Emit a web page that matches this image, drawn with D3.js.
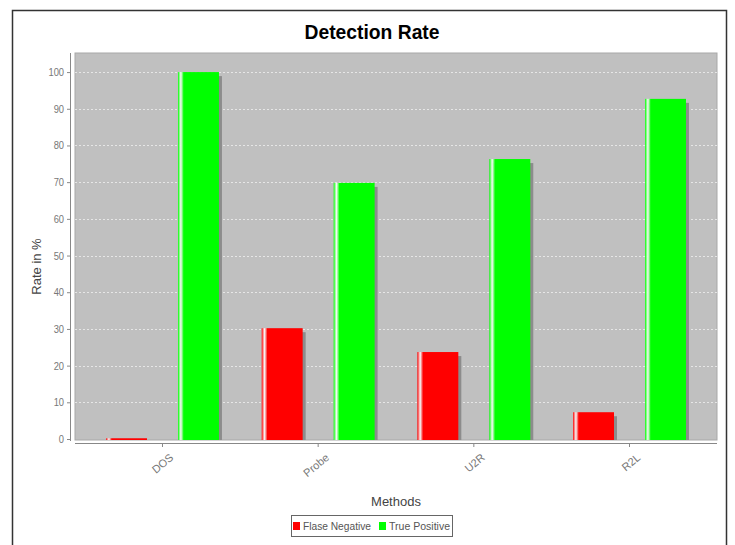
<!DOCTYPE html>
<html>
<head>
<meta charset="utf-8">
<script src="https://cdn.jsdelivr.net/npm/d3@7"></script>
<style>
  body { margin: 0; background: #fff; }
  svg { display: block; }
</style>
</head>
<body>
<div id="chart"></div>
<script>
const categories = ["DOS", "Probe", "U2R", "R2L"];
const series = ["Flase Negative", "True Positive"];
const falseNegative = [0.2, 30.2, 23.7, 7.3];
const truePositive = [100, 69.8, 76.3, 92.7];
const yTicks = [0, 10, 20, 30, 40, 50, 60, 70, 80, 90, 100];
const colors = ["#ff0000", "#00ff00"];

function PlotChart(parent_element) {
  const W = 735, H = 545;
  const plot = {left: 75, right: 717, top: 53, bottom: 440};
  const narrow = "'Liberation Sans', Arial, sans-serif";

  const svg = d3.select("#" + parent_element)
    .append("svg")
      .attr("width", W)
      .attr("height", H);

  // outer frame
  svg.append("path")
      .attr("d", `M12.5,${H} V10.5 H726.5 V${H}`)
      .attr("fill", "none")
      .attr("stroke", "#333")
      .attr("stroke-width", 1.5);

  const defs = svg.append("defs");
  colors.forEach((c, i) => {
    const g = defs.append("linearGradient")
        .attr("id", "grad" + i)
        .attr("x1", "0%").attr("x2", "100%").attr("y1", "0%").attr("y2", "0%");
    g.append("stop").attr("offset", "0%").attr("stop-color", c);
    g.append("stop").attr("offset", "7%").attr("stop-color", "#ffffff").attr("stop-opacity", 0.9);
    g.append("stop").attr("offset", "14%").attr("stop-color", c);
    g.append("stop").attr("offset", "100%").attr("stop-color", c);
  });

  const x0 = d3.scaleBand()
    .domain(categories)
    .range([plot.left, plot.right])
    .paddingInner(0)
    .paddingOuter(0.062);

  const x1 = d3.scaleBand()
    .domain(series)
    .range([0, x0.bandwidth()])
    .paddingInner(0.431)
    .paddingOuter(0.297);

  const y = d3.scaleLinear()
    .domain([0, 105.2])
    .range([plot.bottom - 1, plot.top]);

  // plot background
  svg.append("rect")
      .attr("x", plot.left)
      .attr("y", plot.top)
      .attr("width", plot.right - plot.left)
      .attr("height", plot.bottom - plot.top)
      .attr("fill", "#c0c0c0")
      .attr("stroke", "#a8a8a8");

  // gridlines
  svg.append("g")
    .selectAll("line")
    .data(yTicks.slice(1))
    .enter()
    .append("line")
      .attr("x1", plot.left)
      .attr("x2", plot.right)
      .attr("y1", d => Math.round(y(d)) + 0.5)
      .attr("y2", d => Math.round(y(d)) + 0.5)
      .attr("stroke", "#ffffff")
      .attr("stroke-opacity", 0.6)
      .attr("stroke-dasharray", "2,2");

  // y axis
  const yAxis = svg.append("g")
      .attr("transform", `translate(${plot.left - 5},0)`)
      .call(d3.axisLeft(y).tickValues(yTicks).tickSize(3).tickPadding(4));
  yAxis.select(".domain").attr("stroke", "#888").attr("d", `M0.5,${plot.top}V${plot.bottom + 1}`);
  yAxis.selectAll(".tick line").attr("stroke", "#888");
  yAxis.selectAll(".tick text")
      .attr("fill", "#777")
      .attr("transform", "scale(0.85,1)")
      .style("font-family", narrow)
      .style("font-size", "11px");

  svg.append("text")
      .attr("transform", `translate(41,${(plot.top + plot.bottom) / 2 + 20}) rotate(-90)`)
      .attr("text-anchor", "middle")
      .attr("fill", "#444")
      .style("font-family", narrow)
      .style("font-size", "13px")
      .text("Rate in %");

  // x axis
  const xAxis = svg.append("g")
      .attr("transform", `translate(0,${plot.bottom + 3})`)
      .call(d3.axisBottom(x0).tickSize(4).tickSizeOuter(0).tickPadding(6));
  xAxis.select(".domain").attr("stroke", "#888").attr("d", `M${plot.left},0.5H${plot.right}`);
  xAxis.selectAll(".tick line").attr("stroke", "#888");
  xAxis.selectAll(".tick text")
      .attr("fill", "#777")
      .attr("text-anchor", "end")
      .attr("transform", "translate(1,3) rotate(-40)")
      .attr("dy", "0.6em")
      .style("font-family", narrow)
      .style("font-size", "11px");

  svg.append("text")
      .attr("x", (plot.left + plot.right) / 2)
      .attr("y", 506)
      .attr("text-anchor", "middle")
      .attr("fill", "#444")
      .style("font-family", narrow)
      .style("font-size", "13px")
      .text("Methods");

  // bars
  const rows = categories.map((c, i) => ({category: c, values: [falseNegative[i], truePositive[i]]}));
  const groups = svg.append("g")
    .selectAll("g")
    .data(rows)
    .enter()
    .append("g")
      .attr("transform", d => `translate(${x0(d.category)},0)`);

  const bars = groups.selectAll("g")
    .data(d => d.values.map((v, i) => ({series: series[i], value: v, idx: i})))
    .enter()
    .append("g");

  bars.append("rect")
      .attr("x", d => x1(d.series) + 3)
      .attr("y", d => y(d.value) + 4)
      .attr("width", x1.bandwidth())
      .attr("height", d => Math.max(0, y(0) - y(d.value) - 3))
      .attr("fill", "#8c8c8c");

  bars.append("rect")
      .attr("x", d => x1(d.series))
      .attr("y", d => y(d.value))
      .attr("width", x1.bandwidth())
      .attr("height", d => Math.max(1, y(0) - y(d.value) + 1))
      .attr("fill", d => `url(#grad${d.idx})`);

  // title
  svg.append("text")
      .attr("x", 372)
      .attr("y", 39)
      .attr("text-anchor", "middle")
      .attr("fill", "#000")
      .attr("textLength", 135)
      .attr("lengthAdjust", "spacingAndGlyphs")
      .style("font-family", narrow)
      .style("font-weight", "bold")
      .style("font-size", "20px")
      .text("Detection Rate");

  // legend
  const legend = svg.append("g").attr("transform", "translate(291,515)");
  legend.append("rect")
      .attr("x", 0.5).attr("y", 0.5)
      .attr("width", 161).attr("height", 21)
      .attr("fill", "#fff")
      .attr("stroke", "#666");
  const lx = [2, 88];
  const lw = [68, 61];
  series.forEach((s, i) => {
    legend.append("rect")
        .attr("x", lx[i]).attr("y", 7)
        .attr("width", 7).attr("height", 8)
        .attr("fill", colors[i]);
    legend.append("text")
        .attr("x", lx[i] + 10).attr("y", 15)
        .attr("fill", "#555")
        .attr("textLength", lw[i])
        .attr("lengthAdjust", "spacingAndGlyphs")
        .style("font-family", narrow)
        .style("font-size", "10px")
        .text(s);
  });
}

document.addEventListener('DOMContentLoaded', (event) => {
  PlotChart("chart");
});
</script>
</body>
</html>
